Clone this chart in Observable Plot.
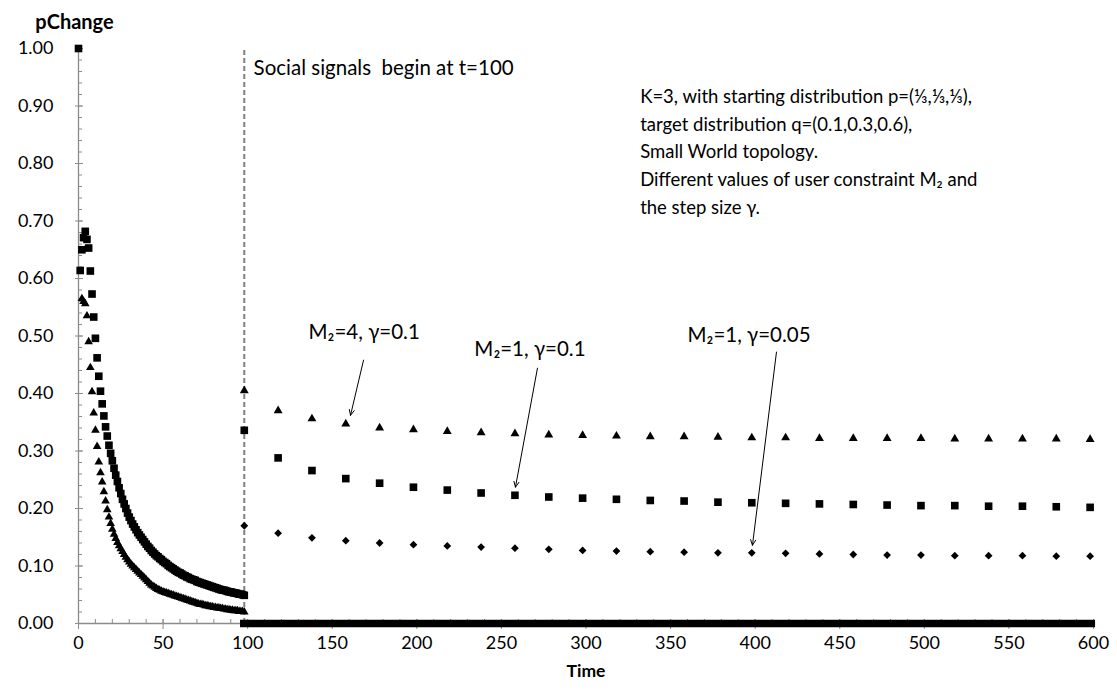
<!DOCTYPE html>
<html>
<head>
<meta charset="utf-8">
<script src="https://cdn.jsdelivr.net/npm/d3@7"></script>
<script src="https://cdn.jsdelivr.net/npm/@observablehq/plot@0.6"></script>
<style>
  html, body { margin: 0; padding: 0; background: #fff; }
</style>
</head>
<body>
<div id="chart"></div>
<script>
// ---- Data ----
// Early phase (before social signals), one value per time step
const earlySquareStart = 0;
const earlySquares = [
  1.000, 0.614, 0.650, 0.671, 0.682, 0.668, 0.653, 0.613, 0.573, 0.533,
  0.496, 0.462, 0.430, 0.404, 0.382, 0.361, 0.342, 0.326, 0.310, 0.296,
  0.283, 0.270, 0.258, 0.247, 0.236, 0.226, 0.216, 0.208, 0.200, 0.192,
  0.185, 0.179, 0.173, 0.168, 0.163, 0.158, 0.154, 0.150, 0.146, 0.142,
  0.138, 0.134, 0.131, 0.127, 0.124, 0.121, 0.118, 0.116, 0.113, 0.111,
  0.108, 0.106, 0.104, 0.101, 0.099, 0.097, 0.095, 0.093, 0.091, 0.089,
  0.088, 0.086, 0.084, 0.083, 0.081, 0.080, 0.078, 0.077, 0.076, 0.075,
  0.073, 0.072, 0.071, 0.070, 0.069, 0.068, 0.067, 0.066, 0.065, 0.064,
  0.063, 0.062, 0.061, 0.060, 0.059, 0.058, 0.058, 0.057, 0.056, 0.055,
  0.055, 0.054, 0.053, 0.053, 0.052, 0.051, 0.051, 0.050, 0.049
];
const earlyTriangleStart = 2;
const earlyTriangles = [
  0.565, 0.560, 0.556, 0.535, 0.490, 0.445, 0.403, 0.366, 0.336, 0.308,
  0.281, 0.262, 0.246, 0.229, 0.213, 0.198, 0.185,
  0.174, 0.164, 0.155, 0.148, 0.141, 0.135, 0.130, 0.125, 0.120, 0.115,
  0.111, 0.107, 0.103, 0.100, 0.097, 0.094, 0.091, 0.088, 0.085, 0.082,
  0.079, 0.076, 0.073, 0.070, 0.067, 0.065, 0.063, 0.061, 0.059, 0.058,
  0.056, 0.055, 0.054, 0.053, 0.052, 0.051, 0.050, 0.049, 0.048, 0.047,
  0.046, 0.045, 0.044, 0.043, 0.042, 0.041, 0.040, 0.039, 0.038, 0.037,
  0.036, 0.035, 0.034, 0.033, 0.033, 0.032, 0.031, 0.031, 0.030, 0.029,
  0.029, 0.028, 0.028, 0.027, 0.027, 0.026, 0.026, 0.025, 0.025, 0.024,
  0.024, 0.023, 0.023, 0.022, 0.022, 0.022, 0.021, 0.021, 0.021, 0.020
];

// Late phase (after social signals), sampled every 20 steps
const lateTimes = [98, 118, 138, 158, 178, 198, 218, 238, 258, 278, 298, 318, 338,
                   358, 378, 398, 418, 438, 458, 478, 498, 518, 538, 558, 578, 598];
const lateM4g01 = [0.405, 0.370, 0.356, 0.347, 0.340, 0.337, 0.334, 0.332, 0.330, 0.328, 0.327, 0.326, 0.325,
                   0.325, 0.324, 0.323, 0.323, 0.322, 0.322, 0.322, 0.322, 0.321, 0.321, 0.321, 0.321, 0.320];
const lateM1g01 = [0.336, 0.288, 0.266, 0.252, 0.244, 0.237, 0.232, 0.227, 0.223, 0.220, 0.218, 0.216, 0.214,
                   0.213, 0.211, 0.210, 0.209, 0.208, 0.207, 0.206, 0.205, 0.205, 0.204, 0.204, 0.203, 0.202];
const lateM1g005 = [0.170, 0.157, 0.149, 0.144, 0.140, 0.137, 0.135, 0.133, 0.131, 0.129, 0.127, 0.126, 0.125,
                    0.124, 0.123, 0.123, 0.122, 0.121, 0.120, 0.119, 0.119, 0.118, 0.118, 0.118, 0.117, 0.117];

// Zero-valued series plotted at every step after the signal starts
const zeroSpan = [{from: 98, to: 599, value: 0}];

// Signal start marker
const signalTime = [98];

// Axis ticks
const xMajor = [0, 50, 100, 150, 200, 250, 300, 350, 400, 450, 500, 550, 600];
const xMinor = d3.range(0, 601, 10);
const yMajor = [0, 0.1, 0.2, 0.3, 0.4, 0.5, 0.6, 0.7, 0.8, 0.9, 1.0];
const yMinor = d3.range(0, 51).map(i => i * 0.02);

// Annotations (data coordinates)
const seriesLabels = [
  {x: 136, y: 0.507, text: "M\u2082=4, \u03b3=0.1"},
  {x: 234, y: 0.477, text: "M\u2082=1, \u03b3=0.1"},
  {x: 360, y: 0.501, text: "M\u2082=1, \u03b3=0.05"}
];
const arrows = [
  {x1: 168.5, y1: 0.458, x2: 160.8, y2: 0.362},
  {x1: 271.3, y1: 0.444, x2: 258.3, y2: 0.237},
  {x1: 412.6, y1: 0.472, x2: 398.4, y2: 0.136}
];
const signalNote = [{x: 103.5, y: 0.966, text: "Social signals  begin at t=100"}];
const infoNote = [{x: 332, y: 0.8245, text:
  "K=3, with starting distribution p=(\u2153,\u2153,\u2153),\ntarget distribution q=(0.1,0.3,0.6),\nSmall World topology.\nDifferent values of user constraint M\u2082 and\nthe step size \u03b3."}];

// ---- Tables built from the arrays ----
const sqEarly = earlySquares.map((v, i) => ({t: i + earlySquareStart, v}));
const trEarly = earlyTriangles.map((v, i) => ({t: i + earlyTriangleStart, v}));
const late = lateTimes.map((t, i) => ({t, a: lateM4g01[i], b: lateM1g01[i], c: lateM1g005[i]}));

const FONT = "Lato, 'Open Sans', sans-serif";
const AX = "#8c8c8c";
const W = 1117, H = 695, ML = 78, MR = 24, MT = 48, MB = 72;
const FW = W - ML - MR, FH = H - MT - MB;

const chart = Plot.plot({
  width: W,
  height: H,
  marginLeft: ML,
  marginRight: MR,
  marginTop: MT,
  marginBottom: MB,
  x: {domain: [0, 600], axis: null},
  y: {domain: [0, 1], axis: null},
  style: {fontFamily: FONT, background: "#fff", color: "#000"},
  marks: [
    // signal start
    Plot.ruleX(signalTime, {y1: 0, y2: 1, stroke: "#808080", strokeWidth: 2, strokeDasharray: "5,3"}),
    // axis lines
    Plot.ruleY([0], {stroke: AX, strokeWidth: 1.3}),
    Plot.ruleX([0], {stroke: AX, strokeWidth: 1.3}),
    // x ticks
    Plot.ruleX(xMinor, {x: d => d, insetTop: FH - 4, stroke: AX}),
    Plot.ruleX(xMajor, {x: d => d, insetTop: FH - 10, dy: 6, stroke: AX}),
    Plot.text(xMajor, {x: d => d, text: d => String(d), frameAnchor: "bottom", dy: 25, fontSize: 18, fill: "#000"}),
    // y ticks
    Plot.ruleY(yMinor, {y: d => d, insetRight: FW - 4, stroke: AX}),
    Plot.ruleY(yMajor, {y: d => d, insetRight: FW - 8, dx: -3, stroke: AX}),
    Plot.text(yMajor, {y: d => d, text: d3.format(".2f"), frameAnchor: "left", dx: -25, textAnchor: "end", fontSize: 18, fill: "#000"}),
    // axis titles
    Plot.text(["pChange"], {frameAnchor: "top-left", dx: -4, dy: -34, fontSize: 20, fontWeight: "bold", textAnchor: "middle"}),
    Plot.text(["Time"], {frameAnchor: "bottom", dy: 53, fontSize: 17.5, fontWeight: "bold"}),

    // zero-valued series
    Plot.ruleY(zeroSpan, {x1: "from", x2: "to", y: "value", stroke: "#000", strokeWidth: 7.5, strokeLinecap: "square"}),

    // early curves
    Plot.dot(trEarly, {x: "t", y: "v", symbol: "triangle", r: 3.2, fill: "#000"}),
    Plot.dot(sqEarly, {x: "t", y: "v", symbol: "square", r: 4.3, fill: "#000"}),

    // late samples
    Plot.dot(late, {x: "t", y: "a", symbol: "triangle", r: 3.3, fill: "#000"}),
    Plot.dot(late, {x: "t", y: "b", symbol: "square", r: 4.3, fill: "#000"}),
    Plot.dot(late, {x: "t", y: "c", symbol: "diamond2", r: 3.5, fill: "#000"}),

    // annotations
    Plot.text(signalNote, {x: "x", y: "y", text: "text", textAnchor: "start", fontSize: 20.5, fill: "#000"}),
    Plot.text(infoNote, {x: "x", y: "y", text: "text", textAnchor: "start", lineAnchor: "middle", lineHeight: 1.5, fontSize: 18.5, fill: "#000"}),
    Plot.text(seriesLabels, {x: "x", y: "y", text: "text", textAnchor: "start", fontSize: 20.5, fill: "#000"}),
    Plot.arrow(arrows, {x1: "x1", y1: "y1", x2: "x2", y2: "y2", stroke: "#000", strokeWidth: 1, headLength: 9, headAngle: 50})
  ]
});

document.getElementById("chart").appendChild(chart);
</script>
</body>
</html>
